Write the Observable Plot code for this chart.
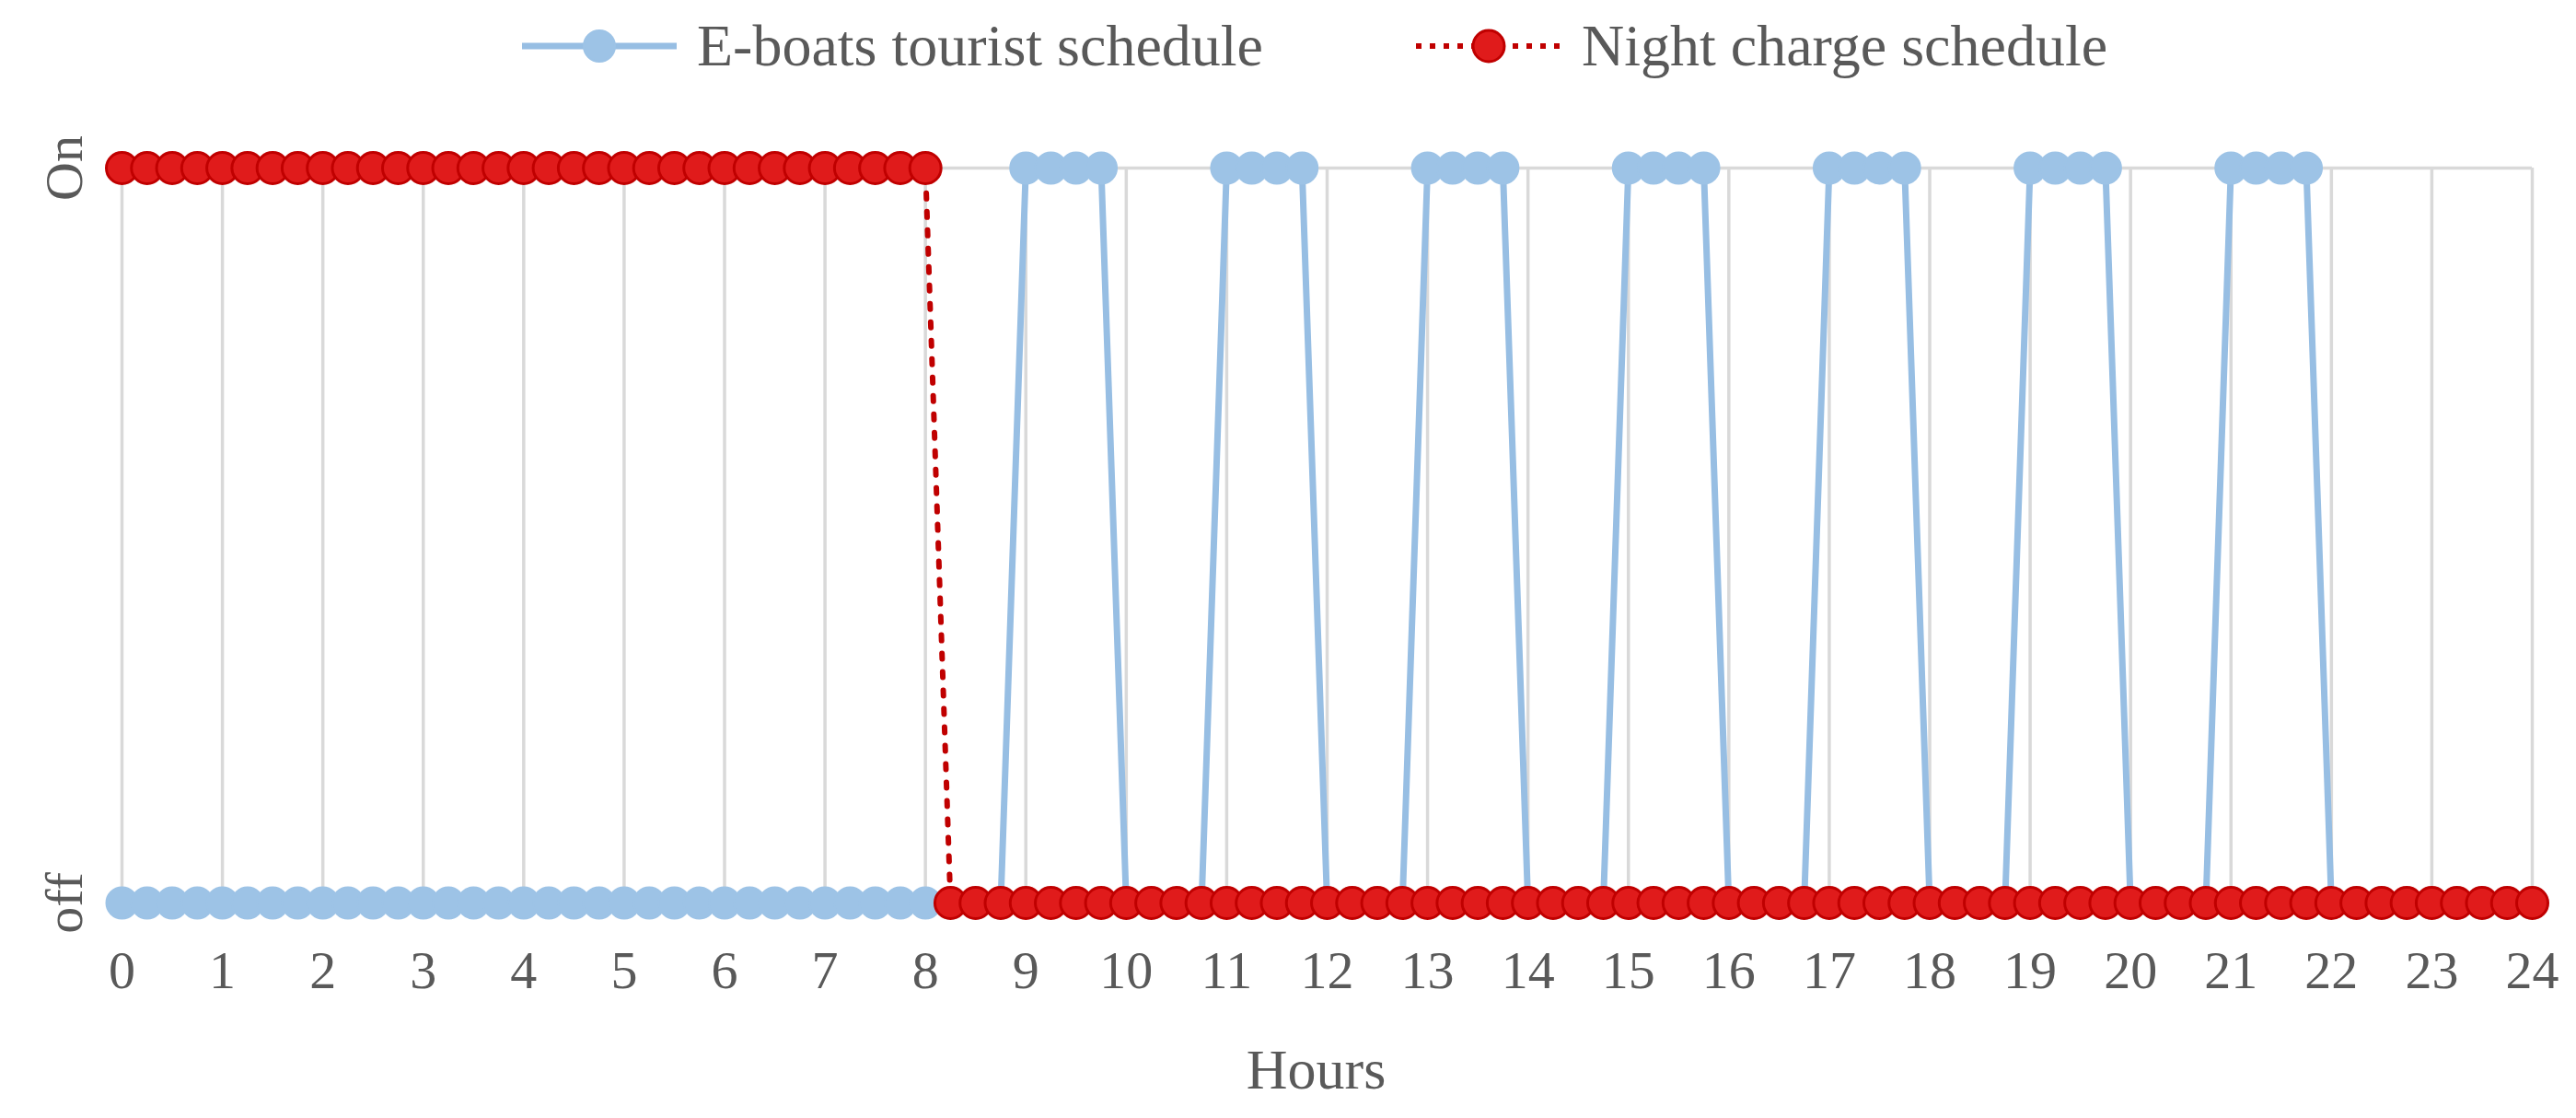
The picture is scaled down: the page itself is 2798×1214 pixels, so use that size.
<!DOCTYPE html>
<html>
<head>
<meta charset="utf-8">
<script src="https://cdn.jsdelivr.net/npm/d3@7"></script>
<script src="https://cdn.jsdelivr.net/npm/@observablehq/plot@0.6"></script>
<style>
  html, body { margin: 0; padding: 0; background: #ffffff; }
  #wrap { width: 2798px; height: 1214px; overflow: hidden; font-family: "Liberation Serif", "Times New Roman", serif; color: #595959; }
  #legend { position: relative; height: 100px; width: 2798px; }
  .item { position: absolute; top: 0; height: 100px; display: flex; align-items: center; font-size: 64px; white-space: nowrap; }
  .item svg { display: block; margin-right: 22px; }
</style>
</head>
<body>
<div id="wrap">
  <div id="legend"></div>
  <div id="chart"></div>
</div>
<script>
// ---- Data ----
const times = [
  0, 0.25, 0.5, 0.75,
  1, 1.25, 1.5, 1.75,
  2, 2.25, 2.5, 2.75,
  3, 3.25, 3.5, 3.75,
  4, 4.25, 4.5, 4.75,
  5, 5.25, 5.5, 5.75,
  6, 6.25, 6.5, 6.75,
  7, 7.25, 7.5, 7.75,
  8, 8.25, 8.5, 8.75,
  9, 9.25, 9.5, 9.75,
  10, 10.25, 10.5, 10.75,
  11, 11.25, 11.5, 11.75,
  12, 12.25, 12.5, 12.75,
  13, 13.25, 13.5, 13.75,
  14, 14.25, 14.5, 14.75,
  15, 15.25, 15.5, 15.75,
  16, 16.25, 16.5, 16.75,
  17, 17.25, 17.5, 17.75,
  18, 18.25, 18.5, 18.75,
  19, 19.25, 19.5, 19.75,
  20, 20.25, 20.5, 20.75,
  21, 21.25, 21.5, 21.75,
  22, 22.25, 22.5, 22.75,
  23, 23.25, 23.5, 23.75,
  24
];
// E-boats tourist schedule (1 = On, 0 = off)
const boatSchedule = [
  0, 0, 0, 0,
  0, 0, 0, 0,
  0, 0, 0, 0,
  0, 0, 0, 0,
  0, 0, 0, 0,
  0, 0, 0, 0,
  0, 0, 0, 0,
  0, 0, 0, 0,
  0, 0, 0, 0,
  1, 1, 1, 1,
  0, 0, 0, 0,
  1, 1, 1, 1,
  0, 0, 0, 0,
  1, 1, 1, 1,
  0, 0, 0, 0,
  1, 1, 1, 1,
  0, 0, 0, 0,
  1, 1, 1, 1,
  0, 0, 0, 0,
  1, 1, 1, 1,
  0, 0, 0, 0,
  1, 1, 1, 1,
  0, 0, 0, 0,
  0, 0, 0, 0,
  0
];
// Night charge schedule (1 = On, 0 = off)
const nightSchedule = [
  1, 1, 1, 1,
  1, 1, 1, 1,
  1, 1, 1, 1,
  1, 1, 1, 1,
  1, 1, 1, 1,
  1, 1, 1, 1,
  1, 1, 1, 1,
  1, 1, 1, 1,
  1, 0, 0, 0,
  0, 0, 0, 0,
  0, 0, 0, 0,
  0, 0, 0, 0,
  0, 0, 0, 0,
  0, 0, 0, 0,
  0, 0, 0, 0,
  0, 0, 0, 0,
  0, 0, 0, 0,
  0, 0, 0, 0,
  0, 0, 0, 0,
  0, 0, 0, 0,
  0, 0, 0, 0,
  0, 0, 0, 0,
  0, 0, 0, 0,
  0, 0, 0, 0,
  0
];
const hourTicks = [0, 1, 2, 3, 4, 5, 6, 7, 8, 9, 10, 11, 12, 13, 14, 15, 16, 17, 18, 19, 20, 21, 22, 23, 24];
const yTickValues = [0, 1];
const yTickLabels = ["off", "On"];
const seriesNames = ["E-boats tourist schedule", "Night charge schedule"];
const xTitle = "Hours";

// ---- Styles ----
const BLUE = "#9dc3e6";
const BLUE_LINE = "#97bee3";
const RED_FILL = "#e01b1b";
const RED_LINE = "#c00000";
const GRID = "#d9d9d9";
const TEXT = "#595959";
const FONT = "'Liberation Serif', 'Times New Roman', serif";

const rows = times.map((t, i) => ({t, boat: boatSchedule[i], night: nightSchedule[i]}));
const yTicks = yTickValues.map((v, i) => ({v, label: yTickLabels[i]}));

// ---- Legend (HTML) ----
const legend = document.getElementById("legend");
function legendItem(left, name, kind) {
  const div = document.createElement("div");
  div.className = "item";
  div.style.left = left + "px";
  const w = kind === "blue" ? 168 : 158;
  const ns = "http://www.w3.org/2000/svg";
  const s = document.createElementNS(ns, "svg");
  s.setAttribute("width", w);
  s.setAttribute("height", 40);
  const ln = document.createElementNS(ns, "line");
  ln.setAttribute("x1", 0); ln.setAttribute("x2", w);
  ln.setAttribute("y1", 20); ln.setAttribute("y2", 20);
  const c = document.createElementNS(ns, "circle");
  c.setAttribute("cx", w / 2); c.setAttribute("cy", 20); c.setAttribute("r", 17);
  if (kind === "blue") {
    ln.setAttribute("stroke", BLUE_LINE); ln.setAttribute("stroke-width", 7);
    c.setAttribute("fill", BLUE); c.setAttribute("stroke", BLUE); c.setAttribute("stroke-width", 2);
  } else {
    ln.setAttribute("stroke", RED_LINE); ln.setAttribute("stroke-width", 6);
    ln.setAttribute("stroke-dasharray", "6,9");
    c.setAttribute("fill", RED_FILL); c.setAttribute("stroke", RED_LINE); c.setAttribute("stroke-width", 3);
  }
  s.appendChild(ln); s.appendChild(c);
  div.appendChild(s);
  const span = document.createElement("span");
  span.textContent = name;
  div.appendChild(span);
  legend.appendChild(div);
}
legendItem(567, seriesNames[0], "blue");
legendItem(1538, seriesNames[1], "red");

// ---- Chart ----
const chart = Plot.plot({
  width: 2798,
  height: 1114,
  marginLeft: 132,
  marginRight: 48,
  marginTop: 82,
  marginBottom: 234,
  x: {domain: [0, 24], axis: null},
  y: {domain: [0, 1], axis: null},
  style: {fontFamily: FONT, color: TEXT, background: "white", overflow: "visible"},
  marks: [
    Plot.ruleX(hourTicks, {x: d => d, y1: 0, y2: 1, stroke: GRID, strokeWidth: 3.5}),
    Plot.ruleY([1, 0], {y: d => d, stroke: GRID, strokeWidth: 3.5}),
    Plot.axisX({ticks: hourTicks, tickSize: 0, tickPadding: 51, fontSize: 58, tickFormat: d => String(d), label: null}),
    Plot.text(yTicks, {y: "v", text: "label", frameAnchor: "left", textAnchor: "middle", lineAnchor: "middle", dx: -62, rotate: -90, fontSize: 58, fill: TEXT}),
    Plot.text([xTitle], {text: d => d, frameAnchor: "bottom", lineAnchor: "middle", dx: -12, dy: 182, fontSize: 62, fill: TEXT}),
    Plot.line(rows, {x: "t", y: "boat", stroke: BLUE_LINE, strokeWidth: 7}),
    Plot.dot(rows, {x: "t", y: "boat", r: 17, fill: BLUE, stroke: BLUE, strokeWidth: 2}),
    Plot.line(rows, {x: "t", y: "night", stroke: RED_LINE, strokeWidth: 6, strokeDasharray: "6,14"}),
    Plot.dot(rows, {x: "t", y: "night", r: 17, fill: RED_FILL, stroke: RED_LINE, strokeWidth: 3})
  ]
});
document.getElementById("chart").appendChild(chart);
</script>
</body>
</html>
